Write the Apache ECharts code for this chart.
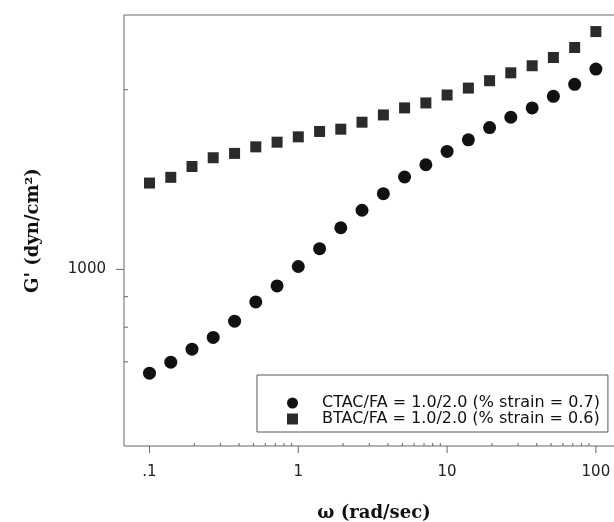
<!DOCTYPE html>
<html>
<head>
<meta charset="utf-8">
<script src="https://cdn.jsdelivr.net/npm/echarts@6/dist/echarts.min.js"></script>
<style>
html,body{margin:0;padding:0;background:#fff;}
#chart{width:614px;height:522px;}
</style>
</head>
<body>
<div id="chart"></div>
<script>
// angular frequency (rad/sec)
const omega = [0.1, 0.139, 0.193, 0.268, 0.373, 0.518, 0.720, 1, 1.39, 1.93, 2.68, 3.73, 5.18, 7.20, 10, 13.9, 19.3, 26.8, 37.3, 51.8, 72.0, 100];
// G' (dyn/cm2)
const ctacG = [670, 699, 735, 769, 819, 882, 938, 1011, 1083, 1174, 1256, 1339, 1428, 1497, 1576, 1648, 1728, 1798, 1864, 1949, 2041, 2165];
const btacG = [1395, 1426, 1487, 1538, 1564, 1604, 1633, 1667, 1702, 1717, 1764, 1814, 1864, 1900, 1959, 2012, 2070, 2134, 2193, 2264, 2353, 2502];
const seriesNames = ['CTAC/FA = 1.0/2.0 (% strain = 0.7)', 'BTAC/FA = 1.0/2.0 (% strain = 0.6)'];

// axis ticks and labels
const xTickValues = [0.1, 1, 10, 100];
const xTickLabels = ['.1', '1', '10', '100'];
const xMinorTicks = [0.2, 0.3, 0.4, 0.5, 0.6, 0.7, 0.8, 0.9, 2, 3, 4, 5, 6, 7, 8, 9, 20, 30, 40, 50, 60, 70, 80, 90];
const yTickValues = [1000];
const yTickLabels = ['1000'];
const yMinorTicks = [700, 800, 900, 2000];

const xMin = 0.06739, xMax = 154.5;
const yMin = 506, yMax = 2667;

function pair(v, ks, ls) {
  for (let i = 0; i < ks.length; i++) {
    if (Math.abs(Math.log10(v) - Math.log10(ks[i])) < 1e-6) return ls[i];
  }
  return '';
}

const tickData = [];
xTickValues.forEach(v => tickData.push([v, yMin, 0]));
xMinorTicks.forEach(v => tickData.push([v, yMin, 1]));
yTickValues.forEach(v => tickData.push([xMin, v, 2]));
yMinorTicks.forEach(v => tickData.push([xMin, v, 3]));

const chart = echarts.init(document.getElementById('chart'), null, {renderer: 'canvas'});
chart.setOption({
  animation: false,
  backgroundColor: '#fff',
  grid: {
    left: 124, top: 15, width: 500, bottom: 76,
    show: true, borderColor: '#666', borderWidth: 1,
    outerBoundsMode: 'none', containLabel: false
  },
  legend: {
    left: 257, top: 375,
    orient: 'vertical',
    backgroundColor: '#fff',
    borderColor: '#555', borderWidth: 1,
    padding: [20, 8, 5, 30],
    itemWidth: 11, itemHeight: 11, itemGap: 0,
    symbolKeepAspect: true,
    textStyle: {fontFamily: 'DejaVu Sans', fontSize: 16, color: '#111', lineHeight: 16, padding: [0, 0, 0, 19]},
    data: [
      {name: seriesNames[0], icon: 'circle'},
      {name: seriesNames[1], icon: 'path://M0 0H10V10H0Z'}
    ]
  },
  xAxis: {
    type: 'log', logBase: 10, min: xMin, max: xMax,
    name: 'ω (rad/sec)', nameLocation: 'middle', nameGap: 58,
    nameTextStyle: {fontFamily: 'DejaVu Serif', fontWeight: 'bold', fontSize: 18, color: '#111'},
    axisLine: {show: false}, axisTick: {show: false}, splitLine: {show: false},
    axisLabel: {
      margin: 19, fontFamily: 'DejaVu Sans', fontSize: 15, color: '#222',
      showMinLabel: true, showMaxLabel: true,
      formatter: v => pair(v, xTickValues, xTickLabels)
    }
  },
  yAxis: {
    type: 'log', logBase: 10, min: yMin, max: yMax,
    name: "G' (dyn/cm²)", nameLocation: 'middle', nameGap: 82, nameRotate: 90,
    nameTextStyle: {fontFamily: 'DejaVu Serif', fontWeight: 'bold', fontSize: 18, color: '#111'},
    axisLine: {show: false}, axisTick: {show: false}, splitLine: {show: false},
    axisLabel: {
      margin: 18, fontFamily: 'DejaVu Sans', fontSize: 15, color: '#222',
      formatter: v => pair(v, yTickValues, yTickLabels)
    }
  },
  series: [
    {
      name: seriesNames[0], type: 'scatter', symbol: 'circle', symbolSize: 13,
      itemStyle: {color: '#111', opacity: 1},
      data: omega.map((w, i) => [w, ctacG[i]])
    },
    {
      name: seriesNames[1], type: 'scatter', symbol: 'rect', symbolSize: 11,
      itemStyle: {color: '#2b2b2b', opacity: 1},
      data: omega.map((w, i) => [w, btacG[i]])
    },
    {
      name: 'ticks', type: 'custom', silent: true, clip: false,
      encode: {x: 0, y: 1},
      data: tickData,
      renderItem: function (params, api) {
        const p = api.coord([api.value(0), api.value(1)]);
        const k = api.value(2);
        let x2 = p[0], y2 = p[1];
        if (k === 0) y2 = p[1] + 7;
        else if (k === 1) y2 = p[1] - 3;
        else if (k === 2) x2 = p[0] - 8;
        else x2 = p[0] + 4;
        return {
          type: 'line',
          shape: {x1: p[0], y1: p[1], x2: x2, y2: y2},
          style: {stroke: '#666', lineWidth: 1}
        };
      }
    }
  ]
});
</script>
</body>
</html>
